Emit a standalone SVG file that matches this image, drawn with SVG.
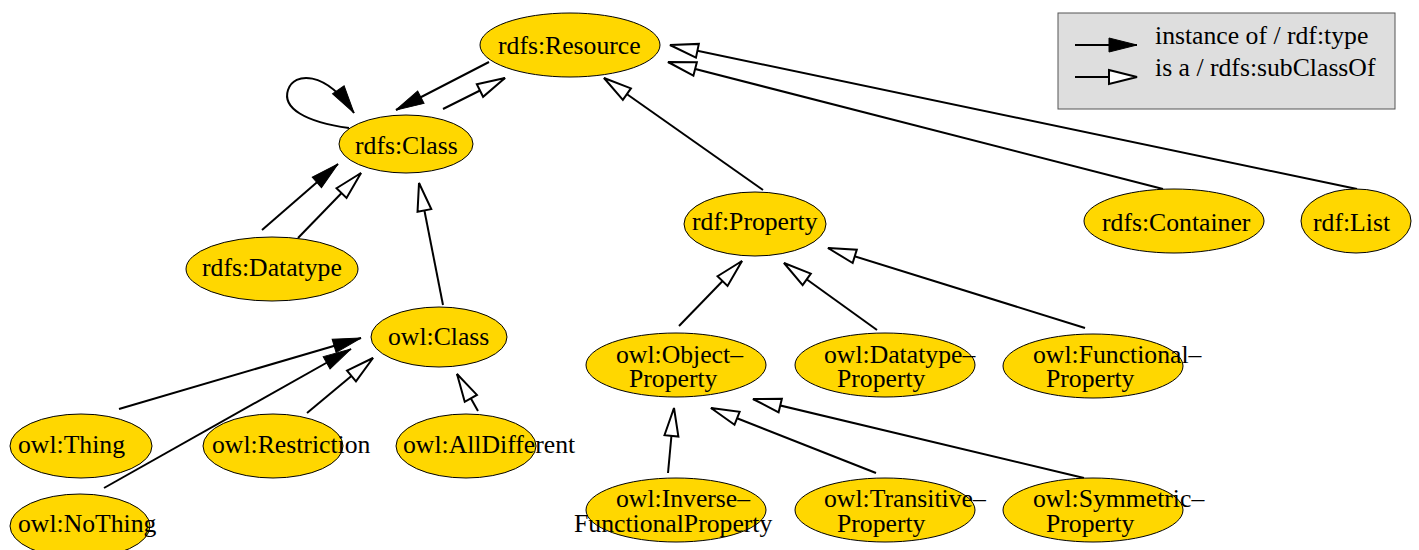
<svg xmlns="http://www.w3.org/2000/svg" width="1419" height="550" viewBox="0 0 1419 550">
<style>
.n ellipse{fill:#ffd700;stroke:#000;stroke-width:1}
text{font-family:"Liberation Serif","Times New Roman",serif;font-size:25.7px;fill:#000}
.e path{fill:none;stroke:#000;stroke-width:2}
.t{marker-end:url(#filled)}
.s{marker-end:url(#hollow)}
</style>
<defs>
<marker id="filled" markerUnits="userSpaceOnUse" markerWidth="32" markerHeight="18" refX="28" refY="7" orient="auto" overflow="visible">
<path d="M0,0 L28,7 L0,14 z" fill="#000" stroke="#000" stroke-width="1"/>
</marker>
<marker id="hollow" markerUnits="userSpaceOnUse" markerWidth="32" markerHeight="18" refX="28" refY="7" orient="auto" overflow="visible">
<path d="M0,0 L28,7 L0,14 z" fill="#fff" stroke="#000" stroke-width="2" stroke-linejoin="miter"/>
</marker>
</defs>
<rect width="1419" height="550" fill="#fff"/>
<g id="legend">
<rect x="1058" y="13" width="337" height="96" fill="#dedede" stroke="#555" stroke-width="1"/>
<path d="M1075,45 L1137,45" stroke="#000" stroke-width="2" class="t"/>
<path d="M1075,77 L1137,77" stroke="#000" stroke-width="2" class="s"/>
<text x="1155" y="44">instance of / rdf:type</text>
<text x="1155" y="76">is a / rdfs:subClassOf</text>
</g>
<g id="edges" class="e">
<path class="t" d="M349,128 C305,122 282,108 288,90 C294,72 325,70 354,113"/>
<path class="t" d="M489,62 L396,110"/>
<path class="s" d="M443,109 L505,78"/>
<path class="t" d="M262,230 L338,164"/>
<path class="s" d="M298,238 L361,173"/>
<path class="s" d="M443,305 L419,183"/>
<path class="t" d="M119,409 L361,338"/>
<path class="t" d="M104,488 L351,349"/>
<path class="s" d="M307,413 L373,358"/>
<path class="s" d="M478,411 L457,374"/>
<path class="s" d="M763,190 L604,78"/>
<path class="s" d="M1163,189 L668,62"/>
<path class="s" d="M1357,189 L670,45"/>
<path class="s" d="M679,326 L742,261"/>
<path class="s" d="M877,330 L784,263"/>
<path class="s" d="M1085,328 L828,248"/>
<path class="s" d="M668,473 L674,408"/>
<path class="s" d="M876,473 L711,408"/>
<path class="s" d="M1084,478 L753,399"/>
</g>
<g id="rdfs_Resource" class="n"><ellipse cx="570" cy="45" rx="90" ry="32"/><text x="498" y="54">rdfs:Resource</text></g>
<g id="rdfs_Class" class="n"><ellipse cx="406" cy="144" rx="67" ry="29"/><text x="355" y="154">rdfs:Class</text></g>
<g id="rdfs_Datatype" class="n"><ellipse cx="272" cy="269" rx="86" ry="32"/><text x="202" y="276">rdfs:Datatype</text></g>
<g id="owl_Class" class="n"><ellipse cx="439" cy="337" rx="68" ry="30"/><text x="388" y="345">owl:Class</text></g>
<g id="owl_Thing" class="n"><ellipse cx="81" cy="446" rx="71" ry="32"/><text x="18" y="453">owl:Thing</text></g>
<g id="owl_NoThing" class="n"><ellipse cx="80" cy="526" rx="70" ry="32"/><text x="18" y="532">owl:NoThing</text></g>
<g id="owl_Restriction" class="n"><ellipse cx="273" cy="446" rx="70" ry="32"/><text x="212" y="453">owl:Restriction</text></g>
<g id="owl_AllDifferent" class="n"><ellipse cx="466" cy="446" rx="70" ry="32"/><text x="403" y="453">owl:AllDifferent</text></g>
<g id="rdf_Property" class="n"><ellipse cx="755" cy="224" rx="71" ry="32"/><text x="692" y="230">rdf:Property</text></g>
<g id="rdfs_Container" class="n"><ellipse cx="1174" cy="221" rx="90" ry="32"/><text x="1102" y="231">rdfs:Container</text></g>
<g id="rdf_List" class="n"><ellipse cx="1356" cy="221" rx="55" ry="32"/><text x="1313" y="231">rdf:List</text></g>
<g id="owl_ObjectProperty" class="n"><ellipse cx="676" cy="365" rx="90" ry="32"/><text><tspan x="616" y="363">owl:Object–</tspan><tspan x="629" y="387">Property</tspan></text></g>
<g id="owl_DatatypeProperty" class="n"><ellipse cx="885" cy="365" rx="90" ry="32"/><text><tspan x="824" y="363">owl:Datatype–</tspan><tspan x="837" y="387">Property</tspan></text></g>
<g id="owl_FunctionalProperty" class="n"><ellipse cx="1093" cy="366" rx="90" ry="32"/><text><tspan x="1033" y="363">owl:Functional–</tspan><tspan x="1046" y="387">Property</tspan></text></g>
<g id="owl_InverseFunctionalProperty" class="n"><ellipse cx="676" cy="510" rx="90" ry="32"/><text><tspan x="616" y="507">owl:Inverse–</tspan><tspan x="574" y="532">FunctionalProperty</tspan></text></g>
<g id="owl_TransitiveProperty" class="n"><ellipse cx="885" cy="510" rx="90" ry="32"/><text><tspan x="824" y="507">owl:Transitive–</tspan><tspan x="837" y="532">Property</tspan></text></g>
<g id="owl_SymmetricProperty" class="n"><ellipse cx="1093" cy="510" rx="90" ry="32"/><text><tspan x="1033" y="507">owl:Symmetric–</tspan><tspan x="1046" y="532">Property</tspan></text></g>
</svg>
